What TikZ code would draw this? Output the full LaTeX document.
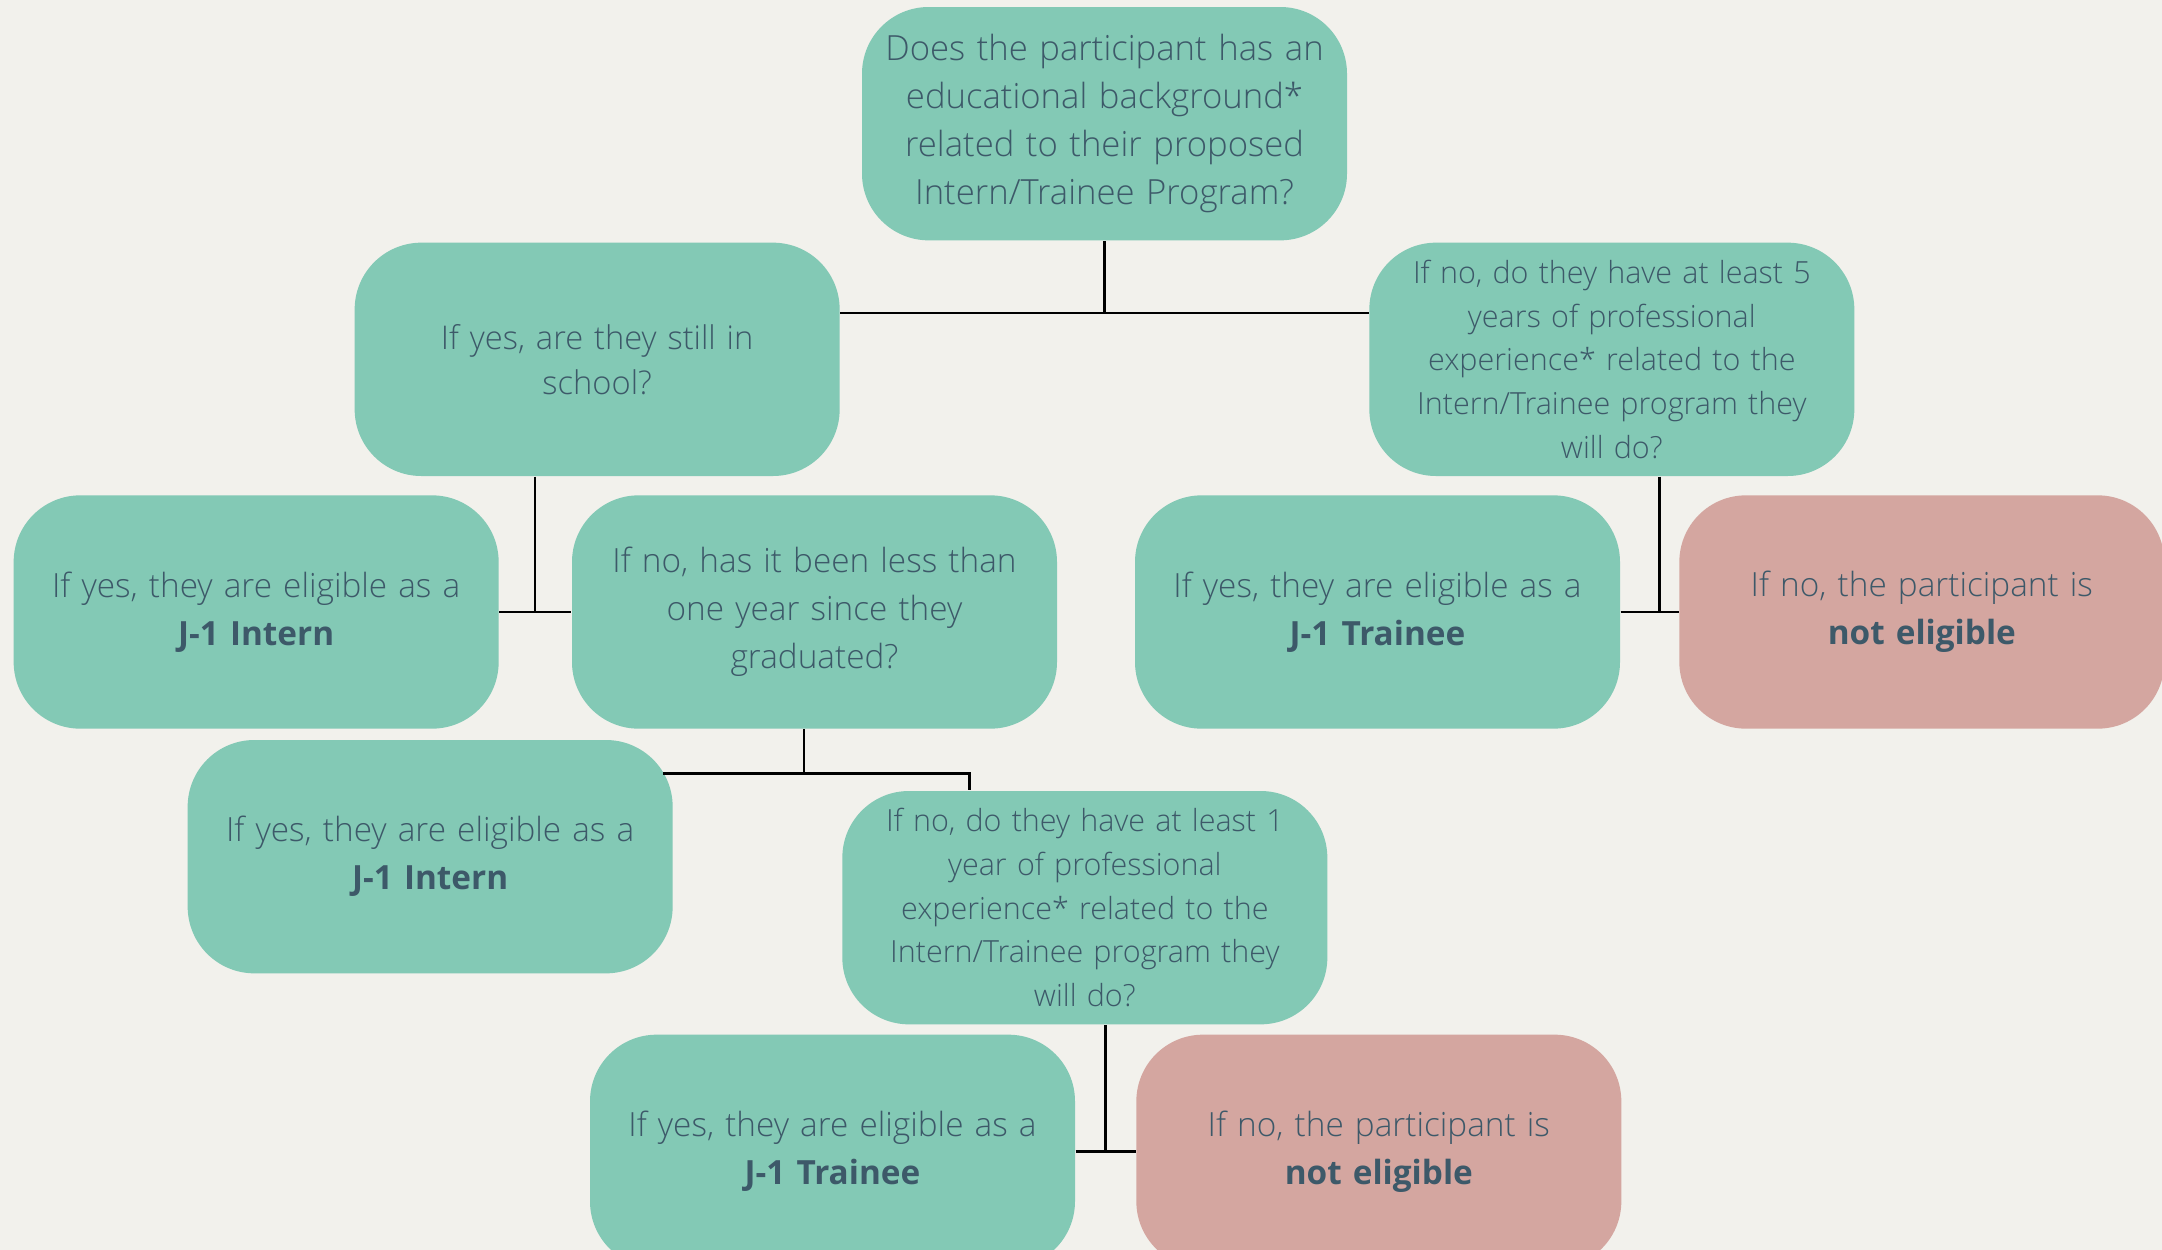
\documentclass[tikz,border=0pt]{standalone}
\usepackage{fontspec}
\setmainfont{Open Sans Light}[BoldFont={Open Sans Bold}]
\usepackage{tikz}
\usetikzlibrary{positioning}

\definecolor{backcol}{HTML}{F2F1EC}
\definecolor{boxgreen}{HTML}{83C9B5}
\definecolor{boxpink}{HTML}{D4A6A0}
\definecolor{textcol}{HTML}{3D5969}

\tikzset{
  qbox/.style={rectangle, rounded corners=20pt, fill=boxgreen, text=textcol,
    minimum width=145.5pt, minimum height=70pt, inner sep=0pt,
    text width=145pt, align=center, font=\fontsize{9.15}{13.1}\selectfont},
  leaf/.style={qbox, font=\fontsize{10}{14.4}\selectfont},
  noleaf/.style={leaf, fill=boxpink},
  link/.style={draw=black, line width=0.7pt}
}

\begin{document}
\begin{tikzpicture}
            \clip (0,0) rectangle (648.6pt,-375pt);
            \fill[backcol] (0,0) rectangle (648.6pt,-375pt);
            \node[qbox,font=\fontsize{10.4}{14.35}\selectfont](top) at (331.35pt,-37.1pt){Does the participant has an\\educational background*\\related to their proposed\\Intern/Trainee Program?};
            \node[qbox,font=\fontsize{9.8}{13.6}\selectfont](school)[below left=0.3pt and 6.3pt of top]{If yes, are they still in\\school?};
            \node[qbox](exp5)[below right=0.3pt and 6.3pt of top]{If no, do they have at least 5\\years of professional\\experience* related to the\\Intern/Trainee program they\\will do?};
            \node[qbox,font=\fontsize{10}{14.4}\selectfont](grad)[below right=5.4pt and -80.7pt of school]{If no, has it been less than\\one year since they\\graduated?};
            \node[leaf](intern1)[left=21.6pt of grad]{If yes, they are eligible as a\\\textbf{J-1 Intern}};
            \node[leaf](trainee1)[below left=5.4pt and -75.6pt of exp5]{If yes, they are eligible as a\\\textbf{J-1 Trainee}};
            \node[noleaf](noelig1)[right=17.4pt of trainee1]{If no, the participant is\\\textbf{not eligible}};
            \node[leaf](intern2)[below left=3pt and -30.6pt of grad]{If yes, they are eligible as a\\\textbf{J-1 Intern}};
            \node[qbox](exp1)[below right=18.3pt and -64.8pt of grad]{If no, do they have at least 1\\year of professional\\experience* related to the\\Intern/Trainee program they\\will do?};
            \node[leaf](trainee2)[below left=2.7pt and -70.2pt of exp1]{If yes, they are eligible as a\\\textbf{J-1 Trainee}};
            \node[noleaf](noelig2)[right=18pt of trainee2]{If no, the participant is\\\textbf{not eligible}};
            % branches
            \coordinate (j1) at ([yshift=-21.6pt]top.south);
            \coordinate (j2) at ([xshift=-3.15pt,yshift=-13.2pt]grad.south);
            \path[link] (top.south) -- (j1)
                        (school.east |- j1) -- (exp5.west |- j1);
            \path[link] ([xshift=-18.75pt]school.south) |- (intern1.east)
                        (intern1.east) -- (grad.west);
            \path[link] ([xshift=14.25pt]exp5.south) |- (trainee1.east)
                        (trainee1.east) -- (noelig1.west);
            \path[link] ([xshift=-3.15pt]grad.south) -- (j2);
            \path[link,shorten <=-3pt] (intern2.east |- j2) -| ([xshift=-34.65pt]exp1.north);
            \path[link] ([xshift=6.15pt]exp1.south) |- (trainee2.east)
                        (trainee2.east) -- (noelig2.west);
        \end{tikzpicture}
\end{document}
